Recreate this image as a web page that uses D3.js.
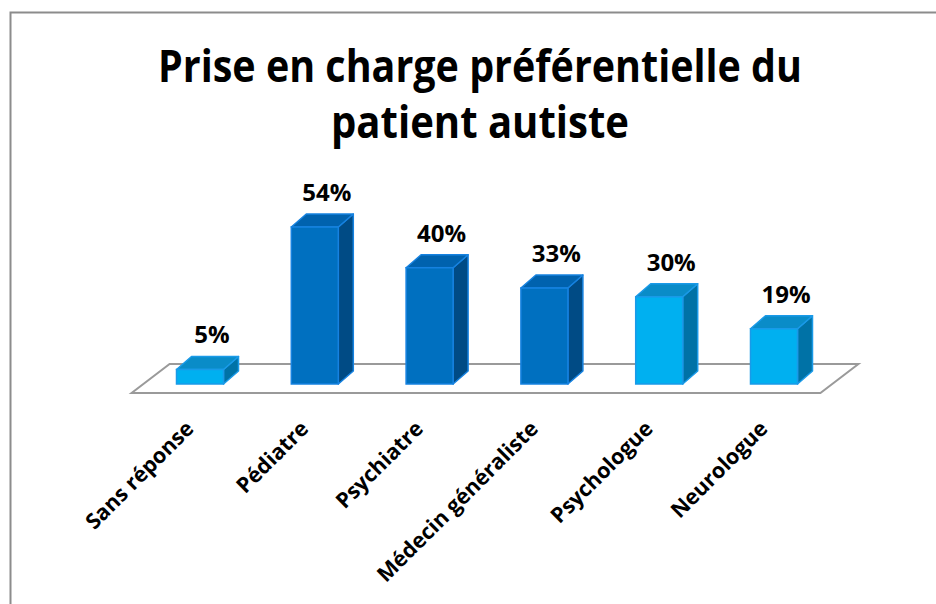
<!DOCTYPE html>
<html>
<head>
<meta charset="utf-8">
<script src="https://cdn.jsdelivr.net/npm/d3@7"></script>
<style>
  html, body { margin: 0; padding: 0; background: #fff; }
  svg { display: block; font-family: "Open Sans", "Noto Sans", sans-serif; }
</style>
</head>
<body>
<div id="chart"></div>
<script>
var width = 936,
    height = 604;

var titleLines = ["Prise en charge préférentielle du", "patient autiste"];

var categories = ["Sans réponse", "Pédiatre", "Psychiatre", "Médecin généraliste", "Psychologue", "Neurologue"];
var values = [5, 54, 40, 33, 30, 19];

// light = cyan bars, dark = blue bars
var shades = {
  light: {front: "#00b0f0", top: "#0a8cc8", side: "#0072a6", edge: "#1a9ae8"},
  dark:  {front: "#0070c0", top: "#0062ae", side: "#004b85", edge: "#1682e0"}
};

var base = 384,      // bottom of the bars (front)
    barW = 47,
    depth = [15, -13],    // bar depth offset
    floorDepth = [38, -29];

var x = d3.scalePoint()
  .domain(categories)
  .range([142.6, 831.4])
  .padding(0.5);

var y = d3.scaleLinear()
  .domain([0, 54])
  .range([base, 227]);

var shade = d3.scaleOrdinal()
  .domain(categories)
  .range(["light", "dark", "dark", "dark", "light", "light"]);

var svg = d3.select("#chart").append("svg")
  .attr("width", width)
  .attr("height", height);

// chart area border
svg.append("rect")
  .attr("x", 10.5)
  .attr("y", 12.5)
  .attr("width", 1000)
  .attr("height", 700)
  .attr("fill", "#fff")
  .attr("stroke", "#8c8c8c")
  .attr("stroke-width", 2);

// title
svg.selectAll(".title")
  .data(titleLines)
  .enter().append("text")
  .attr("class", "title")
  .attr("x", 480)
  .attr("y", function(d, i) { return 82 + i * 56; })
  .attr("text-anchor", "middle")
  .attr("font-size", 44)
  .attr("font-weight", "bold")
  .attr("fill", "#000")
  .attr("textLength", function(d, i) { return i === 0 ? 644 : 298; })
  .attr("lengthAdjust", "spacingAndGlyphs")
  .text(function(d) { return d; });

// floor
var r = x.range();
var fy = base + 9,
    fl = r[0] - 11,
    fr = r[1] - 11;
var floor = [[fl, fy], [fr, fy], [fr + floorDepth[0], fy + floorDepth[1]], [fl + floorDepth[0], fy + floorDepth[1]]];
svg.append("polygon")
  .attr("points", floor.map(function(p) { return p.join(","); }).join(" "))
  .attr("fill", "#fff")
  .attr("stroke", "#9a9a9a")
  .attr("stroke-width", 2)
  .attr("stroke-linejoin", "miter");

// bars
var bars = svg.selectAll(".bar")
  .data(values)
  .enter().append("g")
  .attr("class", "bar");

function pts(a) { return a.map(function(p) { return p.join(","); }).join(" "); }

bars.each(function(d, i) {
  var g = d3.select(this);
  var c = shades[shade(categories[i])];
  var x0 = x(categories[i]) - barW / 2,
      x1 = x0 + barW,
      yt = y(d),
      dx = depth[0], dy = depth[1];

  g.append("polygon")
    .attr("points", pts([[x1, yt], [x1 + dx, yt + dy], [x1 + dx, base + dy], [x1, base]]))
    .attr("fill", c.side)
    .attr("stroke", c.edge)
    .attr("stroke-width", 1.5)
    .attr("stroke-linejoin", "round");

  g.append("polygon")
    .attr("points", pts([[x0, yt], [x0 + dx, yt + dy], [x1 + dx, yt + dy], [x1, yt]]))
    .attr("fill", c.top)
    .attr("stroke", c.edge)
    .attr("stroke-width", 1.5)
    .attr("stroke-linejoin", "round");

  g.append("rect")
    .attr("x", x0)
    .attr("y", yt)
    .attr("width", barW)
    .attr("height", base - yt)
    .attr("fill", c.front)
    .attr("stroke", c.edge)
    .attr("stroke-width", 1.5);
});

// value labels
svg.selectAll(".value")
  .data(values)
  .enter().append("text")
  .attr("class", "value")
  .attr("x", function(d, i) { return x(categories[i]) + 12; })
  .attr("y", function(d) { return y(d) - 26; })
  .attr("text-anchor", "middle")
  .attr("font-size", 24)
  .attr("font-weight", "bold")
  .attr("fill", "#000")
  .text(function(d) { return d + "%"; });

// category labels
svg.selectAll(".cat")
  .data(categories)
  .enter().append("text")
  .attr("class", "cat")
  .attr("transform", function(d) { return "translate(" + (x(d) - 5) + ",430) rotate(-45)"; })
  .attr("text-anchor", "end")
  .attr("font-size", 21.5)
  .attr("font-weight", "bold")
  .attr("fill", "#000")
  .text(function(d) { return d; });
</script>
</body>
</html>
